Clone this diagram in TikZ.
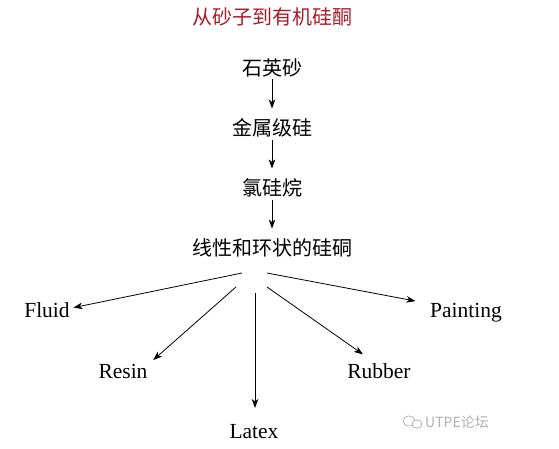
\documentclass[tikz,border=0pt]{standalone}
\usepackage{fontspec}
\setmainfont{Liberation Serif}
\newfontfamily\cjk{Noto Sans CJK SC}
\usetikzlibrary{arrows.meta}
\definecolor{titlered}{RGB}{168,28,40}
\definecolor{wmgray}{RGB}{175,175,175}
\begin{document}
\begin{tikzpicture}[x=1pt,y=-1pt,
  cjktext/.style={inner sep=1pt,font=\cjk\fontsize{20}{22}\selectfont},
  entext/.style={inner sep=1.5pt,anchor=base,font=\fontsize{21.5}{24}\selectfont},
  flow/.style={line width=0.8pt,-{Stealth[length=9pt,width=6.5pt,inset=2.5pt]}}]
\useasboundingbox (0,0) rectangle (559,449);
\node[cjktext,text=titlered] (title) at (272,17) {从砂子到有机硅酮};
\node[cjktext] (quartz) at (272,68) {石英砂};
\node[cjktext] (metal) at (272,128) {金属级硅};
\node[cjktext] (chloro) at (272,188) {氯硅烷};
\node[cjktext] (silox) at (272,248) {线性和环状的硅硐};
\draw[flow,shorten <=1pt,shorten >=9pt] (quartz) -- (metal);
\draw[flow,shorten <=1pt,shorten >=9pt] (metal) -- (chloro);
\draw[flow,shorten <=1pt,shorten >=9pt] (chloro) -- (silox);
\node[entext] (fluid) at (47,317) {Fluid};
\node[entext] (painting) at (466,317) {Painting};
\node[entext] (resin) at (123,378) {Resin};
\node[entext] (rubber) at (379,378) {Rubber};
\node[entext] (latex) at (254,438) {Latex};
\coordinate (s1) at (242,273);
\coordinate (s2) at (236,287);
\coordinate (s3) at (255,293);
\coordinate (s4) at (267,287);
\coordinate (s5) at (267,273);
\coordinate (e3) at (255,408);
\draw[flow] (s1) -- ([xshift=2pt,yshift=2pt]fluid.east);
\draw[flow] (s2) -- ([xshift=4pt,yshift=2pt]resin.north east);
\draw[flow] (s3) -- (e3);
\draw[flow] (s4) -- ([xshift=-16pt,yshift=7pt]rubber.north);
\draw[flow] (s5) -- ([xshift=-13pt,yshift=0pt]painting.north west);
\draw[wmgray,line width=0.7pt] (409,421) ellipse (6 and 5);
\draw[wmgray,line width=0.7pt,fill=white] (417,424) ellipse (5 and 4.2);
\node[text=wmgray,inner sep=0pt,anchor=west,font=\cjk\fontsize{14}{16}\selectfont] (wm) at (425,422) {UTPE论坛};
\end{tikzpicture}
\end{document}
